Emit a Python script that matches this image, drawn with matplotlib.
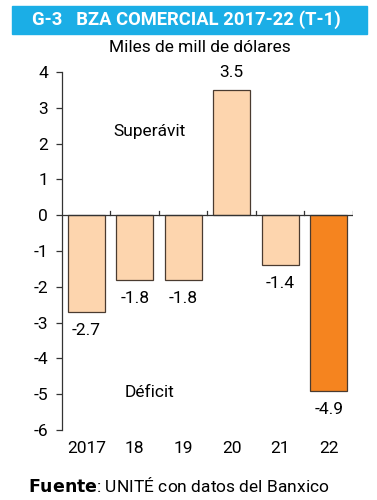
import numpy as np
import matplotlib.pyplot as plt

plt.rcParams['font.family'] = ['Roboto', 'DejaVu Sans']

years = ['2017', '18', '19', '20', '21', '22']
values = [-2.7, -1.8, -1.8, 3.5, -1.4, -4.9]
colors = ['#FDD5AE'] * 5 + ['#F5841F']

fig = plt.figure(figsize=(3.77, 5), dpi=100)
ax = fig.add_axes([0.1645, 0.14, 0.7715, 0.716])

x = np.arange(len(years))
ax.bar(x, values, width=0.76, color=colors, edgecolor='#4a3b30', linewidth=0.9)

for xi, v in zip(x, values):
    if v >= 0:
        ax.annotate(f'{v}', (xi, v), xytext=(0, 7), textcoords='offset points',
                    ha='center', va='bottom', fontsize=12.5)
    else:
        ax.annotate(f'{v}', (xi, v), xytext=(0, -8), textcoords='offset points',
                    ha='center', va='top', fontsize=12.5)

ax.text(1.31, 2.35, 'Superávit', ha='center', va='center', fontsize=12.5)
ax.text(1.31, -4.95, 'Déficit', ha='center', va='center', fontsize=12.5)

ax.set_xlim(-0.5, 5.5)
ax.set_ylim(-6, 4)
ax.set_yticks(range(-6, 5))
ax.set_yticklabels([str(t) for t in range(-6, 5)], fontsize=12.5)
ax.tick_params(axis='y', length=4, width=0.9, color='#333333', pad=6)

# ticks between bars sit on the zero line
ax.set_xticks([])
ax.axhline(0, color='#333333', linewidth=0.9, xmin=0, xmax=1)
for b in np.arange(0.5, 6.0, 1.0):
    ax.plot([b, b], [0, 0.12], color='#333333', linewidth=0.9)
for xi, y in zip(x, years):
    ax.text(xi, -6.3, y, ha='center', va='top', fontsize=12.5)

for s in ['top', 'right', 'bottom']:
    ax.spines[s].set_visible(False)
ax.spines['left'].set_color('#333333')
ax.spines['left'].set_linewidth(0.9)

# title bar
fig.patches.append(plt.Rectangle((12 / 377, 1 - 34 / 500), 355 / 377, 28 / 500,
                                 transform=fig.transFigure, color='#1BAEE6'))
fig.text(0.495, 1 - 20 / 500, 'G-3   BZA COMERCIAL 2017-22 (T-1)', ha='center', va='center',
         color='white', fontsize=13.2, fontweight='bold')
fig.text(0.53, 1 - 47 / 500, 'Miles de mill de dólares', ha='center', va='center', fontsize=12.5)
fig.text(28 / 377, 1 - 485 / 500, r'$\bf{Fuente}$: UNITÉ con datos del Banxico',
         ha='left', va='center', fontsize=12.5)

fig.savefig('out.png', dpi=100)
